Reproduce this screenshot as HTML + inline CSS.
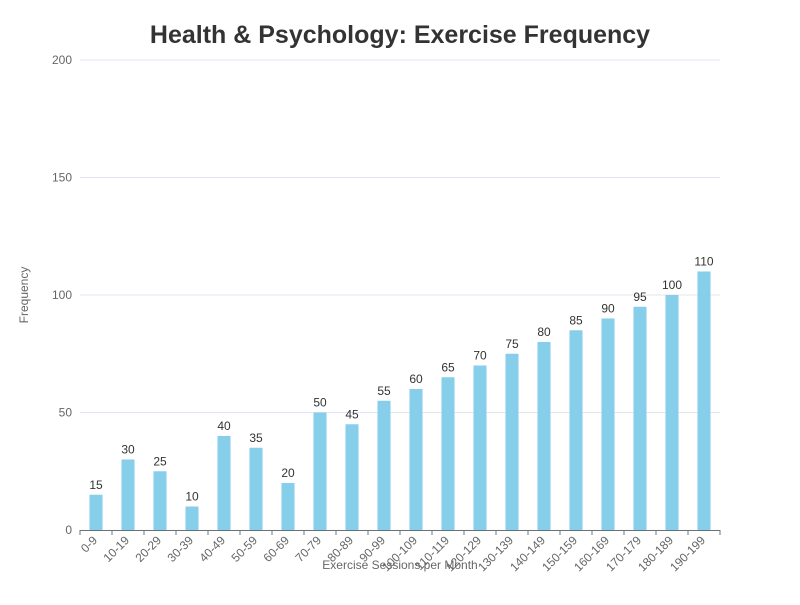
<!DOCTYPE html>
<html><head><meta charset="utf-8"><style>
body{margin:0;background:#fff;font-family:"Liberation Sans",sans-serif}
</style></head><body>
<svg id="chart" width="800" height="600" xmlns="http://www.w3.org/2000/svg">
<text x="400" y="43" text-anchor="middle" font-size="25" font-weight="bold" fill="#333">Health &amp; Psychology: Exercise Frequency</text>
<text transform="translate(28,295) rotate(-90)" text-anchor="middle" font-size="12" fill="#666">Frequency</text>
<text x="400" y="569" text-anchor="middle" font-size="12" fill="#666">Exercise Sessions per Month</text>
<g id="grid"></g><g id="bars"></g><g id="xaxis"></g>
</svg>
<script>
const categories=["0-9","10-19","20-29","30-39","40-49","50-59","60-69","70-79","80-89","90-99","100-109","110-119","120-129","130-139","140-149","150-159","160-169","170-179","180-189","190-199"];
const values=[15,30,25,10,40,35,20,50,45,55,60,65,70,75,80,85,90,95,100,110];
const yTicks=[0,50,100,150,200];
const NS="http://www.w3.org/2000/svg";
const L=80,R=720,T=60,B=530,YMAX=200;
const bw=(R-L)/categories.length;
const y=v=>B-(B-T)*v/YMAX;
const x=i=>L+bw*i;
function mk(t,a,p){const e=document.createElementNS(NS,t);for(const k in a)e.setAttribute(k,a[k]);p.appendChild(e);return e;}
const grid=document.getElementById('grid');
yTicks.forEach(v=>{
  if(v>0){const l=mk('line',{x1:L,x2:R,y1:y(v),y2:y(v),stroke:'#e0e6f1','stroke-width':1},grid);
  
  }
  const t=mk('text',{x:L-8,y:y(v)+4,'text-anchor':'end','font-size':12,fill:'#666'},grid);
  t.textContent=v;
  
  
});
const bars=document.getElementById('bars');
values.forEach((v,i)=>{
  const cx=x(i)+bw/2;
  const r=mk('rect',{x:cx-6.5,y:y(v),width:13,height:B-y(v),fill:'#87ceeb'},bars);
  
  
  const t=mk('text',{x:cx,y:y(v)-6,'text-anchor':'middle','font-size':12,fill:'#333'},bars);
  t.textContent=v;
  
  
});
const xa=document.getElementById('xaxis');
const ax=mk('line',{x1:L,x2:R,y1:B+0.5,y2:B+0.5,stroke:'#6e7079','stroke-width':1},xa);


for(let i=0;i<=categories.length;i++){
  const tk=mk('line',{x1:x(i),x2:x(i),y1:B,y2:B+5,stroke:'#6e7079'},xa);
  
  
}
categories.forEach((c,i)=>{
  const cx=x(i)+bw/2;
  const t=mk('text',{transform:`translate(${cx+2},${B+11}) rotate(-45)`,'text-anchor':'end','font-size':12,fill:'#666'},xa);
  t.textContent=c;
  
  
});
</script>
</body></html>
